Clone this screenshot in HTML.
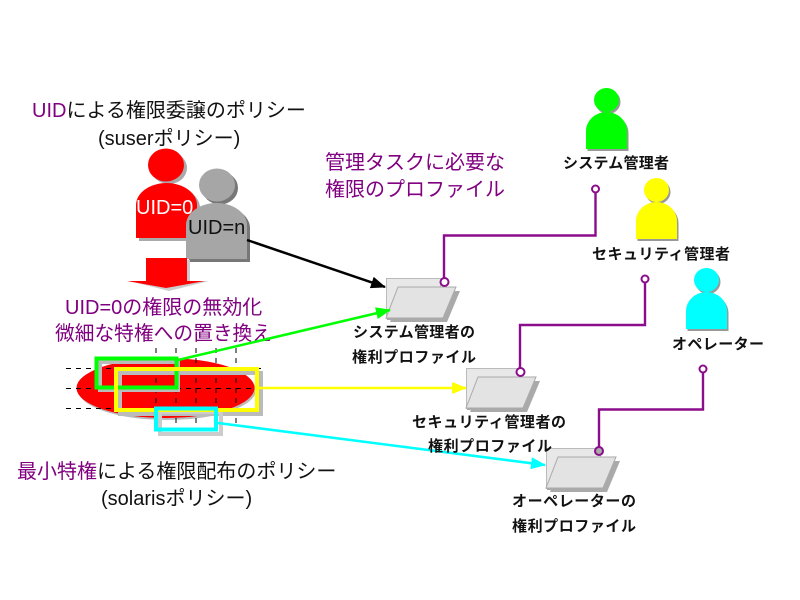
<!DOCTYPE html>
<html><head><meta charset="utf-8"><style>
html,body{margin:0;padding:0;background:#fff}
svg{display:block;filter:blur(0.35px)}
text{font-family:"Liberation Sans","Noto Sans CJK JP",sans-serif}
.t{font-size:20px;fill:#111}
.p{fill:#800080}
.b{font-size:15px;font-weight:bold;fill:#111}
</style></head><body>
<svg width="800" height="600" viewBox="0 0 800 600" xmlns="http://www.w3.org/2000/svg">
<defs>
<g id="person-s"><ellipse cx="0" cy="0" rx="12.500" ry="12"/><path d="M-20.500 49V31A20.500 19 0 0 1 20.500 31V49Z"/></g>
<g id="folder">
<path d="M14 11H72L59 42H2Z" fill="#aaa" transform="translate(2,2)"/>
<rect x="0.500" y="0.500" width="54" height="40" fill="#e8e8e8" stroke="#bbb"/>
<rect x="1" y="40" width="56" height="2" fill="#aaa"/>
<path d="M12 9H70L57 40H0Z" fill="#e3e3e3" stroke="#aaa"/>
</g>
<marker id="mk" markerWidth="15" markerHeight="12" refX="14" refY="6" orient="auto" markerUnits="userSpaceOnUse"><path d="M0 0L15 6L0 12Z" fill="#000"/></marker>
<marker id="mg" markerWidth="15" markerHeight="12" refX="14" refY="6" orient="auto" markerUnits="userSpaceOnUse"><path d="M0 0L15 6L0 12Z" fill="#0f0"/></marker>
<marker id="my" markerWidth="15" markerHeight="12" refX="14" refY="6" orient="auto" markerUnits="userSpaceOnUse"><path d="M0 0L15 6L0 12Z" fill="#ff0"/></marker>
<marker id="mc" markerWidth="15" markerHeight="12" refX="14" refY="6" orient="auto" markerUnits="userSpaceOnUse"><path d="M0 0L15 6L0 12Z" fill="#0ff"/></marker>
</defs>

<!-- titles -->
<text x="32" y="117" class="t"><tspan class="p">UID</tspan>による権限委譲のポリシー</text>
<text x="98" y="145" class="t">(suserポリシー)</text>
<text x="325" y="169" class="t p">管理タスクに必要な</text>
<text x="325" y="196" class="t p">権限のプロファイル</text>
<text x="65" y="314" class="t p">UID=0の権限の無効化</text>
<text x="55" y="340" class="t p" textLength="217" lengthAdjust="spacingAndGlyphs">微細な特権への置き換え</text>
<text x="17" y="478" class="t"><tspan class="p">最小特権</tspan>による権限配布のポリシー</text>
<text x="101" y="505" class="t">(solarisポリシー)</text>

<!-- UID persons -->
<g fill="#aaa" transform="translate(3,3)">
<ellipse cx="166" cy="165" rx="18" ry="16"/><path d="M136 238V205A30.500 22 0 0 1 197 205V238Z"/>
</g>
<g fill="#f00">
<ellipse cx="166" cy="165" rx="18" ry="16.500"/><path d="M136 238V205A30.500 22 0 0 1 197 205V238Z"/>
</g>
<text x="136" y="214" font-size="20" fill="#fff">UID=0</text>
<g fill="#777" transform="translate(3,3)">
<ellipse cx="217" cy="185" rx="18" ry="16.500"/><path d="M186 259V225A30.500 22 0 0 1 247 225V259Z"/>
</g>
<g fill="#a6a6a6">
<ellipse cx="217" cy="185" rx="18" ry="16.500"/><path d="M186 259V225A30.500 22 0 0 1 247 225V259Z"/>
</g>
<text x="188" y="234" font-size="20" fill="#111">UID=n</text>

<!-- red arrow -->
<path d="M146 259H188V280H207L167 290L127 280H146Z" fill="#ccc" transform="translate(2,1)"/>
<path d="M146 258H187V281H205L166 288L127 281H146Z" fill="#f00"/>

<!-- ellipse -->
<ellipse cx="167" cy="390" rx="89" ry="30" fill="#bbb"/>
<ellipse cx="165.500" cy="388" rx="89" ry="30" fill="#f00"/>
<g stroke="#000" stroke-width="1" stroke-dasharray="5 5" fill="none">
<path d="M66 368.500H266M66 388.500H266M66 408.500H266"/>
<path d="M156 348V426M176 348V426M196 348V426M216 348V426M236 348V426"/>
</g>
<!-- selection rects -->
<g fill="none" stroke-width="4">
<rect x="100" y="362" width="78" height="28" stroke="#bbb"/>
<rect x="120" y="373" width="141" height="41" stroke="#bbb"/>
<rect x="160" y="412" width="61" height="22" stroke="#ccc"/>
<rect x="96.500" y="358.500" width="80" height="29" stroke="#0f0"/>
<rect x="116" y="369" width="141" height="41" stroke="#ff0"/>
<rect x="156" y="408.500" width="60" height="21" stroke="#0ff"/>
</g>

<!-- folders -->
<use href="#folder" x="386" y="278"/>
<use href="#folder" x="466" y="368"/>
<use href="#folder" x="546" y="448"/>

<!-- arrows -->
<g fill="none" stroke-width="2.500">
<line x1="247" y1="240" x2="385" y2="287" stroke="#000" marker-end="url(#mk)"/>
<line x1="178" y1="360" x2="390" y2="310" stroke="#0f0" marker-end="url(#mg)"/>
<line x1="258" y1="388" x2="466" y2="388" stroke="#ff0" marker-end="url(#my)"/>
<line x1="218" y1="423" x2="545" y2="465" stroke="#0ff" marker-end="url(#mc)"/>
</g>

<!-- purple connectors -->
<g fill="none" stroke="#8b0d8b" stroke-width="2.400">
<path d="M444 278V235.500H595.500V193"/>
<path d="M520 368V325H645V283"/>
<path d="M599 447V409.500H703V373"/>
</g>
<g fill="#fff" stroke="#8b0d8b" stroke-width="2">
<circle cx="444.500" cy="282" r="4"/>
<circle cx="595.500" cy="189" r="3.500"/>
<circle cx="520.500" cy="372" r="4"/>
<circle cx="645" cy="279" r="3.500"/>
<circle cx="599" cy="451" r="4" fill="#aaa"/>
<circle cx="703" cy="369" r="3.500"/>
</g>

<!-- actors -->
<use href="#person-s" x="608" y="102" fill="#999"/>
<use href="#person-s" x="606.500" y="100" fill="#0f0"/>
<use href="#person-s" x="658" y="192" fill="#999"/>
<use href="#person-s" x="656.500" y="190" fill="#ff0"/>
<use href="#person-s" x="708" y="282" fill="#999"/>
<use href="#person-s" x="706.500" y="280" fill="#0ff"/>

<!-- bold labels -->
<text x="563" y="168" class="b" textLength="106" lengthAdjust="spacing">システム管理者</text>
<text x="592" y="259" class="b" textLength="138" lengthAdjust="spacing">セキュリティ管理者</text>
<text x="672" y="349" class="b" textLength="92" lengthAdjust="spacing">オペレーター</text>
<text x="353" y="337" class="b" textLength="122" lengthAdjust="spacing">システム管理者の</text>
<text x="352" y="362" class="b" textLength="124" lengthAdjust="spacing">権利プロファイル</text>
<text x="412" y="427" class="b" textLength="154" lengthAdjust="spacing">セキュリティ管理者の</text>
<text x="428" y="451" class="b" textLength="124" lengthAdjust="spacing">権利プロファイル</text>
<text x="512" y="506" class="b" textLength="124" lengthAdjust="spacing">オーペレーターの</text>
<text x="512" y="531" class="b" textLength="124" lengthAdjust="spacing">権利プロファイル</text>
</svg>
</body></html>
